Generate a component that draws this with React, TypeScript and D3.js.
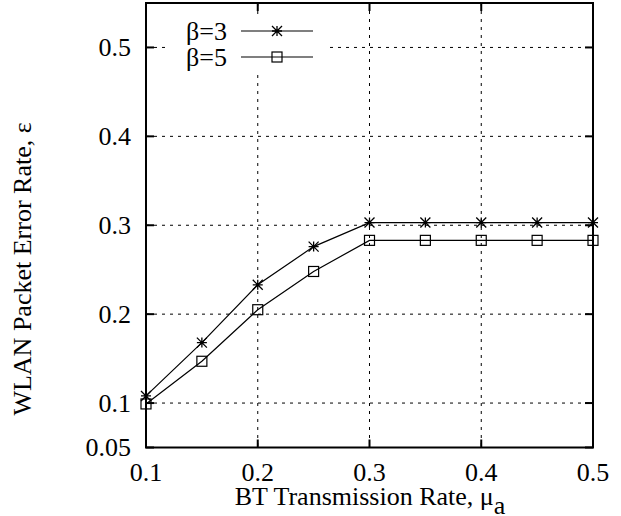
import React from "react";
import * as d3 from "d3";

const xValues = [0.1, 0.15, 0.2, 0.25, 0.3, 0.35, 0.4, 0.45, 0.5];
const beta3 = [0.108, 0.168, 0.233, 0.276, 0.303, 0.303, 0.303, 0.303, 0.303];
const beta5 = [0.099, 0.147, 0.205, 0.248, 0.283, 0.283, 0.283, 0.283, 0.283];
const xTicks = [0.1, 0.2, 0.3, 0.4, 0.5];
const yTicks = [0.05, 0.1, 0.2, 0.3, 0.4, 0.5];
const gridX = [0.2, 0.3, 0.4];
const gridY = [0.1, 0.2, 0.3, 0.4, 0.5];
const seriesNames = ["β=3", "β=5"];

const W = 621, H = 516;
const L = 146, R = 593, T = 3, B = 447.5;
const FONT = "Liberation Serif, Times New Roman, serif";
const FS = 26;

export default function App() {
  const x = d3.scaleLinear().domain([0.1, 0.5]).range([L, R]);
  const y = d3.scaleLinear().domain([0.05, 0.55]).range([B, T]);
  const line = d3.line<number>().x((_, i) => x(xValues[i])).y((d) => y(d));
  const tick = 8;
  const ts = { fontFamily: FONT, fontSize: FS } as React.CSSProperties;

  const star = (cx: number, cy: number, key: string) => {
    const s = 5;
    const d = `M${cx - s},${cy}L${cx + s},${cy}M${cx},${cy - s}L${cx},${cy + s}M${cx - s},${cy - s}L${cx + s},${cy + s}M${cx - s},${cy + s}L${cx + s},${cy - s}`;
    return <path key={key} d={d} stroke="#000" strokeWidth={1.3} fill="none" />;
  };
  const square = (cx: number, cy: number, key: string) => {
    const s = 5;
    return <rect key={key} x={cx - s} y={cy - s} width={2 * s} height={2 * s} fill="none" stroke="#000" strokeWidth={1.2} />;
  };

  return (
    <svg width={W} height={H} style={{ position: "absolute", left: 0, top: 0, background: "#fff", fontFamily: FONT }}>
      <rect x={0} y={0} width={W} height={H} fill="#fff" />
      {gridX.map((v) => (
        <line key={"gx" + v} x1={x(v)} x2={x(v)} y1={T} y2={B} stroke="#000" strokeWidth={1} strokeDasharray="3,5" />
      ))}
      {gridY.map((v) => (
        <line key={"gy" + v} x1={L} x2={R} y1={y(v)} y2={y(v)} stroke="#000" strokeWidth={1} strokeDasharray="3,5" />
      ))}
      <rect x={168} y={18} width={160} height={54} fill="#fff" />
      {xTicks.map((v) => (
        <g key={"xt" + v}>
          <line x1={x(v)} x2={x(v)} y1={B} y2={B - tick} stroke="#000" strokeWidth={2} />
          <line x1={x(v)} x2={x(v)} y1={T} y2={T + tick} stroke="#000" strokeWidth={2} />
          <text x={x(v)} y={481} textAnchor="middle" style={ts}>{v.toFixed(1)}</text>
        </g>
      ))}
      {yTicks.map((v) => (
        <g key={"yt" + v}>
          <line x1={L} x2={L + tick} y1={y(v)} y2={y(v)} stroke="#000" strokeWidth={2} />
          <line x1={R} x2={R - tick} y1={y(v)} y2={y(v)} stroke="#000" strokeWidth={2} />
          <text x={131} y={y(v)} dy="0.34em" textAnchor="end" style={ts}>{v === 0.05 ? "0.05" : v.toFixed(1)}</text>
        </g>
      ))}
      <rect x={L} y={T} width={R - L} height={B - T} fill="none" stroke="#000" strokeWidth={2} />
      <path d={line(beta3) || ""} fill="none" stroke="#000" strokeWidth={1.2} />
      <path d={line(beta5) || ""} fill="none" stroke="#000" strokeWidth={1.2} />
      {beta3.map((v, i) => star(x(xValues[i]), y(v), "s3" + i))}
      {beta5.map((v, i) => square(x(xValues[i]), y(v), "s5" + i))}
      <text x={227} y={40} textAnchor="end" style={ts}>{seriesNames[0]}</text>
      <line x1={241} x2={313} y1={31} y2={31} stroke="#000" strokeWidth={1.2} />
      {star(277, 31, "ls3")}
      <text x={227} y={66} textAnchor="end" style={ts}>{seriesNames[1]}</text>
      <line x1={241} x2={313} y1={57} y2={57} stroke="#000" strokeWidth={1.2} />
      {square(277, 57, "ls5")}
      <text x={370} y={505} textAnchor="middle" style={ts}>
        BT Transmission Rate, μ<tspan dy={9}>a</tspan>
      </text>
      <text transform="translate(31,269) rotate(-90)" textAnchor="middle" style={ts}>
        WLAN Packet Error Rate, ε
      </text>
    </svg>
  );
}
